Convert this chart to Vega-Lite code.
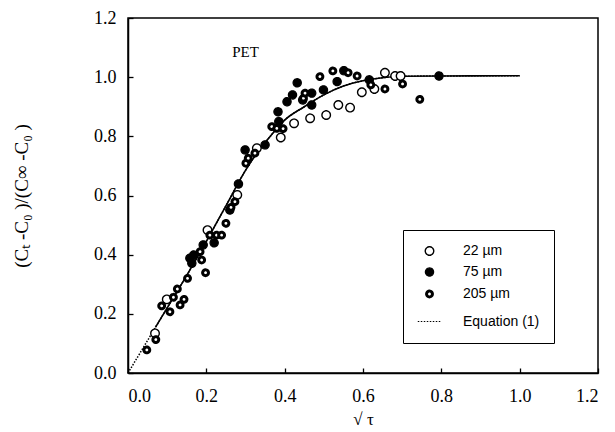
{
  "$schema": "https://vega.github.io/schema/vega-lite/v6.json",
  "autosize": {"type": "none"},
  "padding": {"left": 128, "top": 18, "right": 17, "bottom": 59},
  "width": 470,
  "height": 355,
  "background": "white",
  "config": {
    "view": {"stroke": "black", "strokeWidth": 1.5},
    "axis": {
      "grid": false,
      "domainColor": "black",
      "domainWidth": 1.5,
      "tickColor": "black",
      "tickWidth": 1.3,
      "tickSize": -5,
      "labelFont": "Liberation Serif",
      "labelFontSize": 18,
      "labelColor": "black",
      "titleFont": "Liberation Serif",
      "titleColor": "black",
      "titleFontWeight": "normal"
    }
  },
  "datasets": {
    "points": [
      {"x": 0.069, "y": 0.134, "series": "22 µm"},
      {"x": 0.099, "y": 0.249, "series": "22 µm"},
      {"x": 0.203, "y": 0.483, "series": "22 µm"},
      {"x": 0.279, "y": 0.602, "series": "22 µm"},
      {"x": 0.329, "y": 0.760, "series": "22 µm"},
      {"x": 0.390, "y": 0.796, "series": "22 µm"},
      {"x": 0.424, "y": 0.844, "series": "22 µm"},
      {"x": 0.465, "y": 0.861, "series": "22 µm"},
      {"x": 0.506, "y": 0.872, "series": "22 µm"},
      {"x": 0.537, "y": 0.906, "series": "22 µm"},
      {"x": 0.567, "y": 0.897, "series": "22 µm"},
      {"x": 0.597, "y": 0.949, "series": "22 µm"},
      {"x": 0.629, "y": 0.960, "series": "22 µm"},
      {"x": 0.656, "y": 1.015, "series": "22 µm"},
      {"x": 0.682, "y": 1.004, "series": "22 µm"},
      {"x": 0.696, "y": 1.004, "series": "22 µm"},
      {"x": 0.158, "y": 0.388, "series": "75 µm"},
      {"x": 0.163, "y": 0.371, "series": "75 µm"},
      {"x": 0.168, "y": 0.399, "series": "75 µm"},
      {"x": 0.192, "y": 0.433, "series": "75 µm"},
      {"x": 0.220, "y": 0.440, "series": "75 µm"},
      {"x": 0.260, "y": 0.551, "series": "75 µm"},
      {"x": 0.282, "y": 0.639, "series": "75 µm"},
      {"x": 0.299, "y": 0.754, "series": "75 µm"},
      {"x": 0.350, "y": 0.771, "series": "75 µm"},
      {"x": 0.385, "y": 0.850, "series": "75 µm"},
      {"x": 0.383, "y": 0.883, "series": "75 µm"},
      {"x": 0.406, "y": 0.917, "series": "75 µm"},
      {"x": 0.420, "y": 0.940, "series": "75 µm"},
      {"x": 0.432, "y": 0.981, "series": "75 µm"},
      {"x": 0.446, "y": 0.923, "series": "75 µm"},
      {"x": 0.469, "y": 0.946, "series": "75 µm"},
      {"x": 0.469, "y": 0.906, "series": "75 µm"},
      {"x": 0.499, "y": 0.957, "series": "75 µm"},
      {"x": 0.534, "y": 0.985, "series": "75 µm"},
      {"x": 0.551, "y": 1.022, "series": "75 µm"},
      {"x": 0.616, "y": 0.991, "series": "75 µm"},
      {"x": 0.794, "y": 1.004, "series": "75 µm"},
      {"x": 0.048, "y": 0.078, "series": "205 µm"},
      {"x": 0.071, "y": 0.113, "series": "205 µm"},
      {"x": 0.086, "y": 0.227, "series": "205 µm"},
      {"x": 0.107, "y": 0.207, "series": "205 µm"},
      {"x": 0.116, "y": 0.256, "series": "205 µm"},
      {"x": 0.126, "y": 0.284, "series": "205 µm"},
      {"x": 0.133, "y": 0.230, "series": "205 µm"},
      {"x": 0.143, "y": 0.249, "series": "205 µm"},
      {"x": 0.152, "y": 0.320, "series": "205 µm"},
      {"x": 0.184, "y": 0.410, "series": "205 µm"},
      {"x": 0.188, "y": 0.382, "series": "205 µm"},
      {"x": 0.198, "y": 0.339, "series": "205 µm"},
      {"x": 0.209, "y": 0.466, "series": "205 µm"},
      {"x": 0.226, "y": 0.466, "series": "205 µm"},
      {"x": 0.239, "y": 0.466, "series": "205 µm"},
      {"x": 0.250, "y": 0.506, "series": "205 µm"},
      {"x": 0.263, "y": 0.560, "series": "205 µm"},
      {"x": 0.273, "y": 0.579, "series": "205 µm"},
      {"x": 0.301, "y": 0.709, "series": "205 µm"},
      {"x": 0.307, "y": 0.726, "series": "205 µm"},
      {"x": 0.324, "y": 0.743, "series": "205 µm"},
      {"x": 0.367, "y": 0.833, "series": "205 µm"},
      {"x": 0.380, "y": 0.827, "series": "205 µm"},
      {"x": 0.396, "y": 0.826, "series": "205 µm"},
      {"x": 0.448, "y": 0.929, "series": "205 µm"},
      {"x": 0.452, "y": 0.946, "series": "205 µm"},
      {"x": 0.490, "y": 1.002, "series": "205 µm"},
      {"x": 0.523, "y": 1.021, "series": "205 µm"},
      {"x": 0.562, "y": 1.015, "series": "205 µm"},
      {"x": 0.585, "y": 1.004, "series": "205 µm"},
      {"x": 0.620, "y": 0.974, "series": "205 µm"},
      {"x": 0.656, "y": 0.960, "series": "205 µm"},
      {"x": 0.701, "y": 0.977, "series": "205 µm"},
      {"x": 0.745, "y": 0.925, "series": "205 µm"}
    ],
    "curve": [
      {"x": 0.0, "y": 0.0},
      {"x": 0.035, "y": 0.077},
      {"x": 0.07, "y": 0.154},
      {"x": 0.1, "y": 0.22},
      {"x": 0.15, "y": 0.33},
      {"x": 0.2, "y": 0.445},
      {"x": 0.25, "y": 0.565},
      {"x": 0.3, "y": 0.685},
      {"x": 0.33, "y": 0.745},
      {"x": 0.36, "y": 0.795},
      {"x": 0.4, "y": 0.855},
      {"x": 0.45, "y": 0.9},
      {"x": 0.5, "y": 0.94},
      {"x": 0.55, "y": 0.97},
      {"x": 0.6, "y": 0.988},
      {"x": 0.65, "y": 0.998},
      {"x": 0.7, "y": 1.003},
      {"x": 0.8, "y": 1.004},
      {"x": 1.0, "y": 1.005}
    ],
    "annot": [{"label": "PET", "x": 0.3, "y": 1.085}]
  },
  "layer": [
    {
      "data": {"name": "curve"},
      "mark": {"type": "line", "color": "black", "strokeWidth": 1.5, "strokeDash": [1.5, 1.5], "interpolate": "monotone"},
      "encoding": {
        "x": {
          "field": "x", "type": "quantitative",
          "scale": {"domain": [0, 1.2], "nice": false, "zero": false},
          "axis": {
            "values": [0, 0.1, 0.2, 0.3, 0.4, 0.5, 0.6, 0.7, 0.8, 0.9, 1.0, 1.1, 1.2],
            "labelExpr": "round(datum.value * 10) % 2 == 0 ? format(datum.value, '.1f') : ''",
            "labelPadding": 19,
            "title": "√ τ",
            "titleFontSize": 17,
            "titleY": 46,
            "titleBaseline": "middle"
          }
        },
        "y": {
          "field": "y", "type": "quantitative",
          "scale": {"domain": [0, 1.2], "nice": false, "zero": false},
          "axis": {
            "values": [0, 0.1, 0.2, 0.3, 0.4, 0.5, 0.6, 0.7, 0.8, 0.9, 1.0, 1.1, 1.2],
            "labelExpr": "round(datum.value * 10) % 2 == 0 ? format(datum.value, '.1f') : ''",
            "labelPadding": 17,
            "title": "(Cₜ -C₀ )/(C∞ -C₀ )",
            "titleFontSize": 19,
            "titleX": -107,
            "titleBaseline": "middle"
          }
        }
      }
    },
    {
      "data": {"name": "curve"},
      "transform": [{"filter": "datum.x >= 0.07"}],
      "mark": {"type": "line", "color": "black", "strokeWidth": 1.6, "interpolate": "monotone"},
      "encoding": {
        "x": {"field": "x", "type": "quantitative"},
        "y": {"field": "y", "type": "quantitative"}
      }
    },
    {
      "data": {"name": "points"},
      "mark": {"type": "point", "filled": true, "stroke": "black", "opacity": 1},
      "encoding": {
        "x": {"field": "x", "type": "quantitative"},
        "y": {"field": "y", "type": "quantitative"},
        "shape": {
          "field": "series", "type": "ordinal",
          "scale": {"domain": ["22 µm", "75 µm", "205 µm", "Equation (1)"], "range": ["circle", "circle", "circle", "stroke"]},
          "legend": {
            "orient": "none", "legendX": 275, "legendY": 212,
            "title": null,
            "strokeColor": "black",
            "padding": 14,
            "cornerRadius": 0,
            "labelFont": "Liberation Sans",
            "labelFontSize": 14,
            "labelColor": "black",
            "labelOffset": 21,
            "rowPadding": 6,
            "symbolStrokeColor": "black"
          }
        },
        "fill": {
          "field": "series", "type": "ordinal",
          "scale": {"type": "ordinal", "domain": ["22 µm", "75 µm", "205 µm", "Equation (1)"], "range": ["white", "black", "white", "transparent"]}
        },
        "size": {
          "field": "series", "type": "ordinal",
          "scale": {"type": "ordinal", "domain": ["22 µm", "75 µm", "205 µm", "Equation (1)"], "range": [72, 68, 34, 550]}
        },
        "strokeWidth": {
          "field": "series", "type": "ordinal",
          "scale": {"type": "ordinal", "domain": ["22 µm", "75 µm", "205 µm", "Equation (1)"], "range": [1.4, 1.2, 3, 1.2]}
        },
        "strokeDash": {
          "field": "series", "type": "ordinal",
          "scale": {"type": "ordinal", "domain": ["22 µm", "75 µm", "205 µm", "Equation (1)"], "range": [[1, 0], [1, 0], [1, 0], [1.5, 1.5]]}
        }
      }
    },
    {
      "data": {"name": "annot"},
      "mark": {"type": "text", "font": "Liberation Serif", "fontSize": 15, "fill": "black", "fontWeight": "normal"},
      "encoding": {
        "x": {"field": "x", "type": "quantitative"},
        "y": {"field": "y", "type": "quantitative"},
        "text": {"field": "label"}
      }
    }
  ]
}
